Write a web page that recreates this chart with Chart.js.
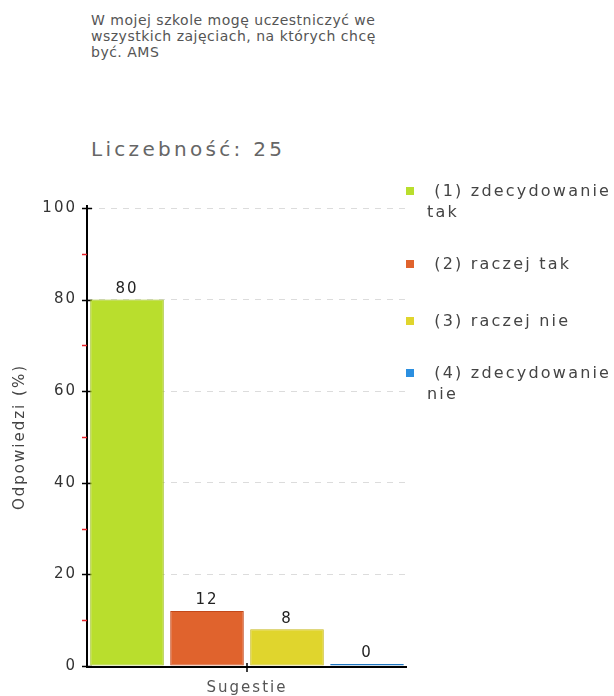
<!DOCTYPE html>
<html>
<head>
<meta charset="utf-8">
<script src="https://cdn.jsdelivr.net/npm/chart.js@4/dist/chart.umd.min.js"></script>
<style>
  body { margin: 0; background: #fff; font-family: "DejaVu Sans", Verdana, sans-serif; }
  #wrap { position: relative; width: 614px; height: 696px; overflow: hidden; }
  #chart { position: absolute; left: 0; top: 0; }
  .title { position: absolute; left: 91px; top: 12px; font-size: 14px; line-height: 16px; letter-spacing: 0.5px; color: #555; width: 320px; }
  .count { position: absolute; left: 91px; top: 137px; font-size: 20px; color: #666; letter-spacing: 3.3px; }
  .legend { position: absolute; left: 406px; top: 0; font-size: 16px; letter-spacing: 2.2px; color: #444; line-height: 21px; }
  .legend .item { position: absolute; left: 0; width: 210px; }
  .legend .box { position: absolute; left: 0; top: 7px; width: 8px; height: 8px; }
  .legend .txt { position: absolute; left: 21px; top: 0; white-space: nowrap; }
</style>
</head>
<body>
<div id="wrap">
  <div class="title">W mojej szkole mogę uczestniczyć we<br>wszystkich zajęciach, na których chcę<br>być. AMS</div>
  <div class="count">Liczebność: 25</div>
  <canvas id="chart" width="614" height="696"></canvas>
  <div class="legend" id="legend"></div>
</div>
<script>
const categories = ['Sugestie'];
const seriesNames = ['(1) zdecydowanie tak', '(2) raczej tak', '(3) raczej nie', '(4) zdecydowanie nie'];
const legendLines = [['(1) zdecydowanie', 'tak'], ['(2) raczej tak'], ['(3) raczej nie'], ['(4) zdecydowanie', 'nie']];
const seriesValues = [80, 12, 8, 0];
const seriesColors = ['#b9de2d', '#e0632d', '#e0d52d', '#2b8fe0'];
const seriesBorders = ['#9dbf1c', '#c2481a', '#c6b81c', '#1f76c0'];
const yTicks = [0, 20, 40, 60, 80, 100];
const yMinorTicks = [10, 30, 50, 70, 90];
const legendTops = [180, 253, 310, 362];

const FONT = '"DejaVu Sans", Verdana, sans-serif';

const datasets = seriesNames.map((name, i) => ({
  label: name,
  data: [seriesValues[i]],
  backgroundColor: seriesColors[i],
  borderColor: seriesBorders[i],
  borderWidth: 1,
  borderSkipped: false,
  minBarLength: i === 3 ? 2 : 0,
  barPercentage: 0.92,
  categoryPercentage: 1
}));

// wider letter spacing for all canvas text
const spacing = {
  id: 'spacing',
  beforeLayout(chart) { chart.ctx.letterSpacing = '2px'; },
  beforeDraw(chart) { chart.ctx.letterSpacing = '2px'; }
};

// axis lines and tick marks
const axisLines = {
  id: 'axisLines',
  beforeDatasetsDraw(chart) {
    const { ctx, chartArea: a, scales: { x, y } } = chart;
    ctx.save();
    ctx.strokeStyle = '#000';
    ctx.lineWidth = 2;
    ctx.beginPath();
    ctx.moveTo(a.left, a.top - 3);
    ctx.lineTo(a.left, a.bottom + 2);
    ctx.moveTo(a.left - 1, a.bottom + 1);
    ctx.lineTo(a.right, a.bottom + 1);
    ctx.stroke();

    ctx.lineWidth = 1.5;
    ctx.beginPath();
    yTicks.forEach(v => {
      const py = Math.round(y.getPixelForValue(v)) + 0.5;
      ctx.moveTo(a.left - 5, py);
      ctx.lineTo(a.left + 5, py);
    });
    const cx = x.getPixelForValue(0);
    ctx.moveTo(cx, a.bottom - 3);
    ctx.lineTo(cx, a.bottom + 6);
    ctx.stroke();

    ctx.strokeStyle = '#e8212a';
    ctx.beginPath();
    yMinorTicks.forEach(v => {
      const py = Math.round(y.getPixelForValue(v)) + 0.5;
      ctx.moveTo(a.left - 5, py);
      ctx.lineTo(a.left, py);
    });
    ctx.stroke();
    ctx.restore();
  }
};

// value above each bar
const valueLabels = {
  id: 'valueLabels',
  afterDatasetsDraw(chart) {
    const { ctx } = chart;
    ctx.save();
    ctx.fillStyle = '#222';
    ctx.font = '15px ' + FONT;
    ctx.textAlign = 'center';
    ctx.textBaseline = 'bottom';
    chart.data.datasets.forEach((ds, i) => {
      const bar = chart.getDatasetMeta(i).data[0];
      ctx.fillText(String(ds.data[0]), bar.x, bar.y - 3);
    });
    ctx.restore();
  }
};

new Chart(document.getElementById('chart'), {
  type: 'bar',
  data: { labels: categories, datasets },
  options: {
    responsive: false,
    animation: false,
    events: [],
    layout: { padding: { top: 208, right: 207, left: 0, bottom: 0 } },
    plugins: { legend: { display: false }, tooltip: { enabled: false } },
    scales: {
      x: {
        grid: { display: false },
        border: { display: false },
        ticks: { color: '#555', font: { family: FONT, size: 15 }, padding: 5 },
        afterFit(scale) { scale.height = 30; }
      },
      y: {
        min: 0,
        max: 100,
        ticks: { stepSize: 20, color: '#333', font: { family: FONT, size: 15 }, padding: 10 },
        grid: { color: '#dcdcdc', drawTicks: false, lineWidth: 1 },
        border: { display: false, dash: [6, 6] },
        title: { display: true, text: 'Odpowiedzi (%)', color: '#444', font: { family: FONT, size: 15 }, padding: { top: 11 } },
        afterFit(scale) { scale.width = 87; }
      }
    }
  },
  plugins: [spacing, axisLines, valueLabels]
});

// legend on the right
const legend = document.getElementById('legend');
legendLines.forEach((lines, i) => {
  const item = document.createElement('div');
  item.className = 'item';
  item.style.top = legendTops[i] + 'px';
  const box = document.createElement('div');
  box.className = 'box';
  box.style.background = seriesColors[i];
  const txt = document.createElement('div');
  txt.className = 'txt';
  txt.innerHTML = lines.map((l, j) => j === 0 ? '&nbsp;' + l : l).join('<br>');
  item.appendChild(box);
  item.appendChild(txt);
  legend.appendChild(item);
});
</script>
</body>
</html>
